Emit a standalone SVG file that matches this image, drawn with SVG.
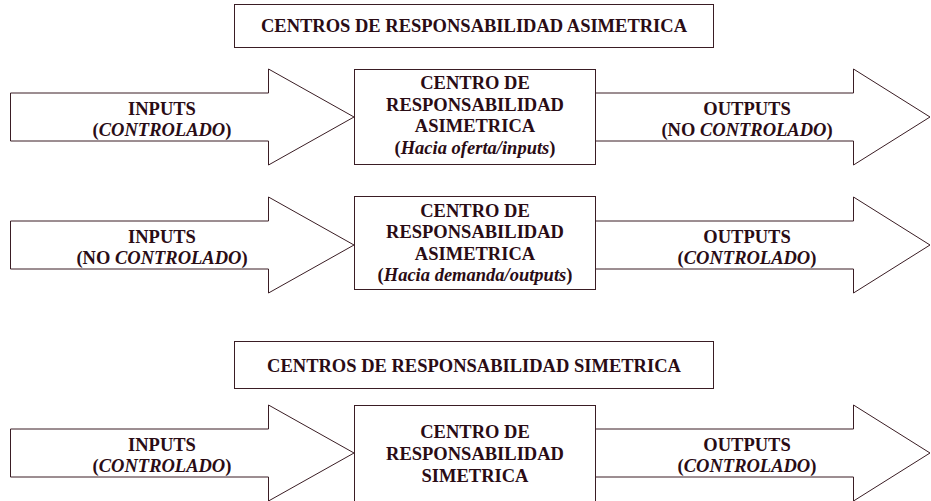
<svg xmlns="http://www.w3.org/2000/svg" width="931" height="501" viewBox="0 0 931 501">
<style>
.bg{fill:#ffffff}
.shape{fill:#ffffff;stroke:#3a1d24;stroke-width:1}
.t{font-size:18.5px;font-weight:bold;fill:#2a0c15;text-anchor:middle}
.i{font-style:italic}
</style>
<rect class="bg" x="0" y="0" width="931" height="501"/>
<g font-family="'Liberation Serif', 'Times New Roman', Times, 'DejaVu Serif', serif">
<g id="connectors">
  <g id="arrow-in-1">
    <polygon class="shape" points="10.5,93 268.5,93 268.5,69 354,117 268.5,165 268.5,141 10.5,141"/>
    <text class="t" x="162" y="115">INPUTS</text>
    <text class="t" x="162" y="136">(<tspan class="i">CONTROLADO</tspan>)</text>
  </g>
  <g id="arrow-out-1">
    <polygon class="shape" points="595,93 853.5,93 853.5,69 930,117 853.5,165 853.5,141 595,141"/>
    <text class="t" x="747" y="115">OUTPUTS</text>
    <text class="t" x="747" y="136">(NO <tspan class="i">CONTROLADO</tspan>)</text>
  </g>
  <g id="arrow-in-2">
    <polygon class="shape" points="10.5,221 268.5,221 268.5,197 354,245 268.5,293 268.5,269 10.5,269"/>
    <text class="t" x="162" y="243">INPUTS</text>
    <text class="t" x="162" y="264">(NO <tspan class="i">CONTROLADO</tspan>)</text>
  </g>
  <g id="arrow-out-2">
    <polygon class="shape" points="595,221 853.5,221 853.5,197 930,245 853.5,293 853.5,269 595,269"/>
    <text class="t" x="747" y="243">OUTPUTS</text>
    <text class="t" x="747" y="264">(<tspan class="i">CONTROLADO</tspan>)</text>
  </g>
  <g id="arrow-in-3">
    <polygon class="shape" points="10.5,429 268.5,429 268.5,405 354,453 268.5,501 268.5,477 10.5,477"/>
    <text class="t" x="162" y="451">INPUTS</text>
    <text class="t" x="162" y="472">(<tspan class="i">CONTROLADO</tspan>)</text>
  </g>
  <g id="arrow-out-3">
    <polygon class="shape" points="595,429 853.5,429 853.5,405 930,453 853.5,501 853.5,477 595,477"/>
    <text class="t" x="747" y="451">OUTPUTS</text>
    <text class="t" x="747" y="472">(<tspan class="i">CONTROLADO</tspan>)</text>
  </g>
</g>
<g id="title-asimetrica">
  <rect class="shape" x="234.5" y="4.5" width="479" height="43"/>
  <text class="t" x="474" y="32">CENTROS DE RESPONSABILIDAD ASIMETRICA</text>
</g>
<g id="centro-asim-oferta">
  <rect class="shape" x="354.5" y="69.5" width="241" height="95"/>
  <text class="t" x="475" y="89">CENTRO DE</text>
  <text class="t" x="475" y="110.5">RESPONSABILIDAD</text>
  <text class="t" x="475" y="132">ASIMETRICA</text>
  <text class="t" x="475" y="153.5">(<tspan class="i">Hacia oferta/inputs</tspan>)</text>
</g>
<g id="centro-asim-demanda">
  <rect class="shape" x="354.5" y="196.5" width="241" height="93"/>
  <text class="t" x="475" y="216.5">CENTRO DE</text>
  <text class="t" x="475" y="238">RESPONSABILIDAD</text>
  <text class="t" x="475" y="259.5">ASIMETRICA</text>
  <text class="t" x="475" y="281">(<tspan class="i">Hacia demanda/outputs</tspan>)</text>
</g>
<g id="title-simetrica">
  <rect class="shape" x="234.5" y="341.5" width="479" height="47"/>
  <text class="t" x="474" y="371.5">CENTROS DE RESPONSABILIDAD SIMETRICA</text>
</g>
<g id="centro-sim">
  <rect class="shape" x="354.5" y="405.5" width="241" height="100"/>
  <text class="t" x="475" y="438">CENTRO DE</text>
  <text class="t" x="475" y="460">RESPONSABILIDAD</text>
  <text class="t" x="475" y="482">SIMETRICA</text>
</g>
</g>
</svg>
